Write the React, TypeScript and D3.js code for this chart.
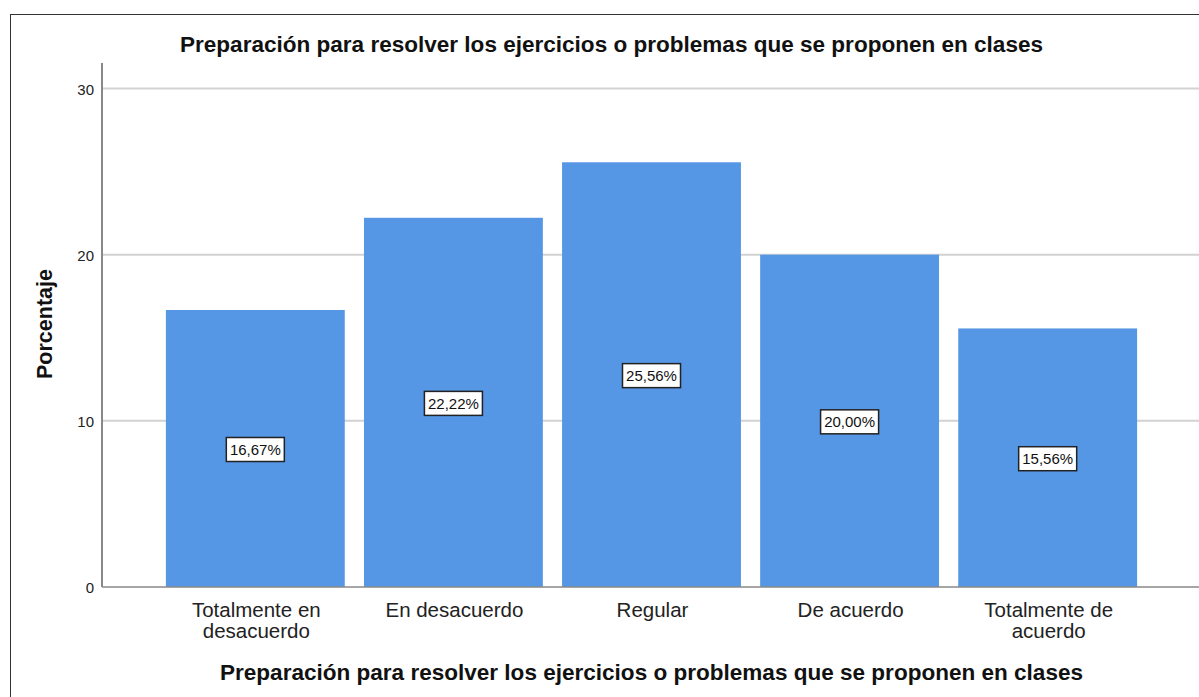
import React from "react";
import * as d3 from "d3";

const categories: string[][] = [
  ["Totalmente en", "desacuerdo"],
  ["En desacuerdo"],
  ["Regular"],
  ["De acuerdo"],
  ["Totalmente de", "acuerdo"],
];
const values: number[] = [16.67, 22.22, 25.56, 20.0, 15.56];
const yTicks: number[] = [0, 10, 20, 30];
const title = "Preparación para resolver los ejercicios o problemas que se proponen en clases";
const yTitle = "Porcentaje";

const W = 1199;
const H = 697;
const FONT = "'Liberation Sans', Arial, sans-serif";

export default function App() {
  const x = d3
    .scaleBand<number>()
    .domain(values.map((_, i) => i))
    .range([102, 1201])
    .paddingInner(0.097)
    .paddingOuter(0.3225);
  const y = d3.scaleLinear().domain([0, 30]).range([587, 88.5]);
  const fmt = (v: number) => v.toFixed(2).replace(".", ",") + "%";

  return (
    <svg
      width={W}
      height={H}
      style={{ position: "absolute", left: 0, top: 0, background: "#fff" }}
      fontFamily={FONT}
    >
      <rect x={10.5} y={14.5} width={1300} height={800} fill="none" stroke="#333" strokeWidth={1} />
      <text
        x={611.5}
        y={52}
        textAnchor="middle"
        fontSize={21.5}
        fontWeight="bold"
        fill="#111"
        textLength={863}
        lengthAdjust="spacingAndGlyphs"
      >
        {title}
      </text>
      {yTicks.map((t) => (
        <g key={t}>
          {t > 0 && (
            <line x1={102} x2={W} y1={y(t)} y2={y(t)} stroke="#d2d2d2" strokeWidth={2} />
          )}
          <text x={94} y={y(t) + 6} textAnchor="end" fontSize={15} fill="#222">
            {t}
          </text>
        </g>
      ))}
      {values.map((v, i) => (
        <rect
          key={i}
          x={x(i)}
          y={y(v)}
          width={x.bandwidth()}
          height={y(0) - y(v)}
          fill="#5596e5"
        />
      ))}
      <line x1={102} x2={102} y1={63} y2={587} stroke="#888" strokeWidth={2} />
      <line x1={102} x2={W} y1={587} y2={587} stroke="#888" strokeWidth={1.5} />
      {values.map((v, i) => {
        const cx = (x(i) as number) + x.bandwidth() / 2;
        const cy = y(v / 2) + 1;
        return (
          <g key={i}>
            <rect x={cx - 29} y={cy - 12} width={58} height={24} fill="#fff" stroke="#222" strokeWidth={1.5} />
            <text x={cx} y={cy + 5.5} textAnchor="middle" fontSize={15} fill="#111">
              {fmt(v)}
            </text>
          </g>
        );
      })}
      {categories.map((lines, i) => {
        const cx = (x(i) as number) + x.bandwidth() / 2 + 1;
        return (
          <g key={i}>
            {lines.map((l, j) => (
              <text key={j} x={cx} y={616.5 + j * 21.5} textAnchor="middle" fontSize={20.5} fill="#222">
                {l}
              </text>
            ))}
          </g>
        );
      })}
      <text
        x={651.5}
        y={680}
        textAnchor="middle"
        fontSize={21.5}
        fontWeight="bold"
        fill="#111"
        textLength={863}
        lengthAdjust="spacingAndGlyphs"
      >
        {title}
      </text>
      <text
        transform={`translate(52,324) rotate(-90)`}
        textAnchor="middle"
        fontSize={21.5}
        fontWeight="bold"
        fill="#111"
      >
        {yTitle}
      </text>
    </svg>
  );
}
